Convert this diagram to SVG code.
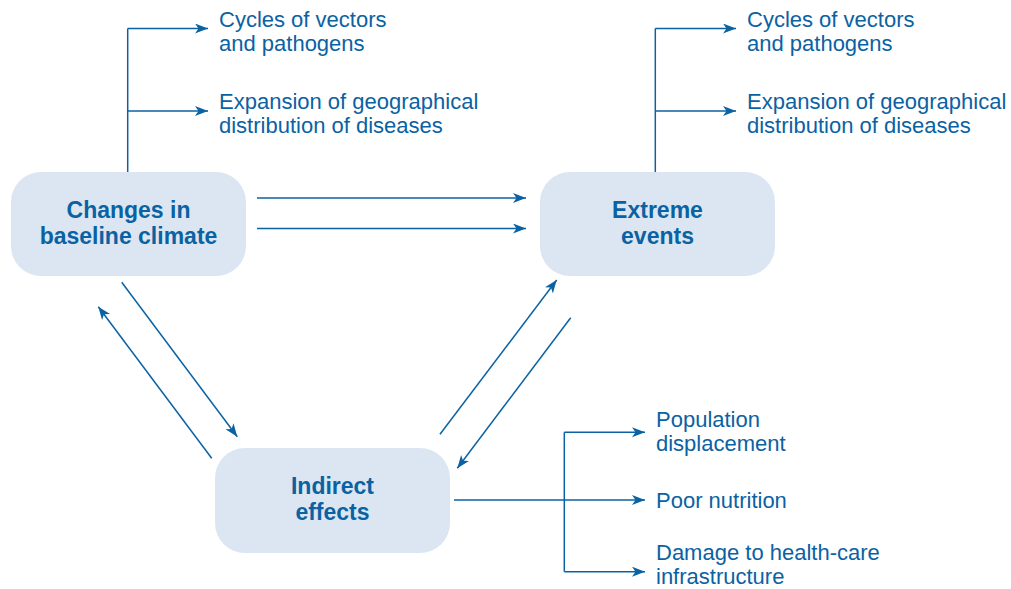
<svg xmlns="http://www.w3.org/2000/svg" width="1011" height="589" viewBox="0 0 1011 589">
<defs>
<marker id="arr" markerUnits="userSpaceOnUse" markerWidth="15" markerHeight="11" refX="13" refY="5" orient="auto">
<path d="M0,0 L13,5 L0,10 L3.5,5 z" fill="#0b62a3"/>
</marker>
<style>
.box{fill:#dce6f2;}
.bt{font-family:"Liberation Sans",Arial,sans-serif;font-weight:bold;font-size:23px;fill:#0b62a3;text-anchor:middle;}
.lt{font-family:"Liberation Sans",Arial,sans-serif;font-size:22px;fill:#0b62a3;}
.ln{fill:none;stroke:#0b62a3;stroke-width:1.5;}
.ar{marker-end:url(#arr);}
</style>
</defs>
<rect width="1011" height="589" fill="#ffffff"/>
<g id="connectors">
<path class="ln" d="M127.7,172 V28.5"/>
<path class="ln ar" d="M127.7,28.5 H208"/>
<path class="ln ar" d="M127.7,111 H208"/>
<path class="ln" d="M655.3,172 V28.5"/>
<path class="ln ar" d="M655.3,28.5 H736"/>
<path class="ln ar" d="M655.3,111 H736"/>
<path class="ln ar" d="M257,198 H526"/>
<path class="ln ar" d="M257,228.5 H526"/>
<path class="ln ar" d="M121.7,282.3 L237.3,436.7"/>
<path class="ln ar" d="M211.7,458.3 L98.3,306.7"/>
<path class="ln ar" d="M440,434.3 L556.7,280"/>
<path class="ln ar" d="M570.7,317.7 L457.3,468.3"/>
<path class="ln" d="M564.3,432.3 V571.7"/>
<path class="ln ar" d="M564.3,432.3 H645"/>
<path class="ln ar" d="M454,500 H645"/>
<path class="ln ar" d="M564.3,571.7 H645"/>
</g>
<g id="node-baseline">
<rect class="box" x="11" y="172" width="235" height="104" rx="30"/>
<text class="bt" x="128.5" y="218">Changes in</text>
<text class="bt" x="128.5" y="244">baseline climate</text>
</g>
<g id="node-extreme">
<rect class="box" x="540" y="172" width="235" height="104" rx="30"/>
<text class="bt" x="657.5" y="218">Extreme</text>
<text class="bt" x="657.5" y="244">events</text>
</g>
<g id="node-indirect">
<rect class="box" x="215" y="448" width="235" height="105" rx="30"/>
<text class="bt" x="332.5" y="494">Indirect</text>
<text class="bt" x="332.5" y="520">effects</text>
</g>
<g id="labels-baseline">
<text class="lt" x="219" y="27">Cycles of vectors</text>
<text class="lt" x="219" y="51">and pathogens</text>
<text class="lt" x="219" y="109">Expansion of geographical</text>
<text class="lt" x="219" y="133">distribution of diseases</text>
</g>
<g id="labels-extreme">
<text class="lt" x="747" y="27">Cycles of vectors</text>
<text class="lt" x="747" y="51">and pathogens</text>
<text class="lt" x="747" y="109">Expansion of geographical</text>
<text class="lt" x="747" y="133">distribution of diseases</text>
</g>
<g id="labels-indirect">
<text class="lt" x="656" y="427">Population</text>
<text class="lt" x="656" y="451">displacement</text>
<text class="lt" x="656" y="508">Poor nutrition</text>
<text class="lt" x="656" y="560">Damage to health-care</text>
<text class="lt" x="656" y="584">infrastructure</text>
</g>
</svg>
